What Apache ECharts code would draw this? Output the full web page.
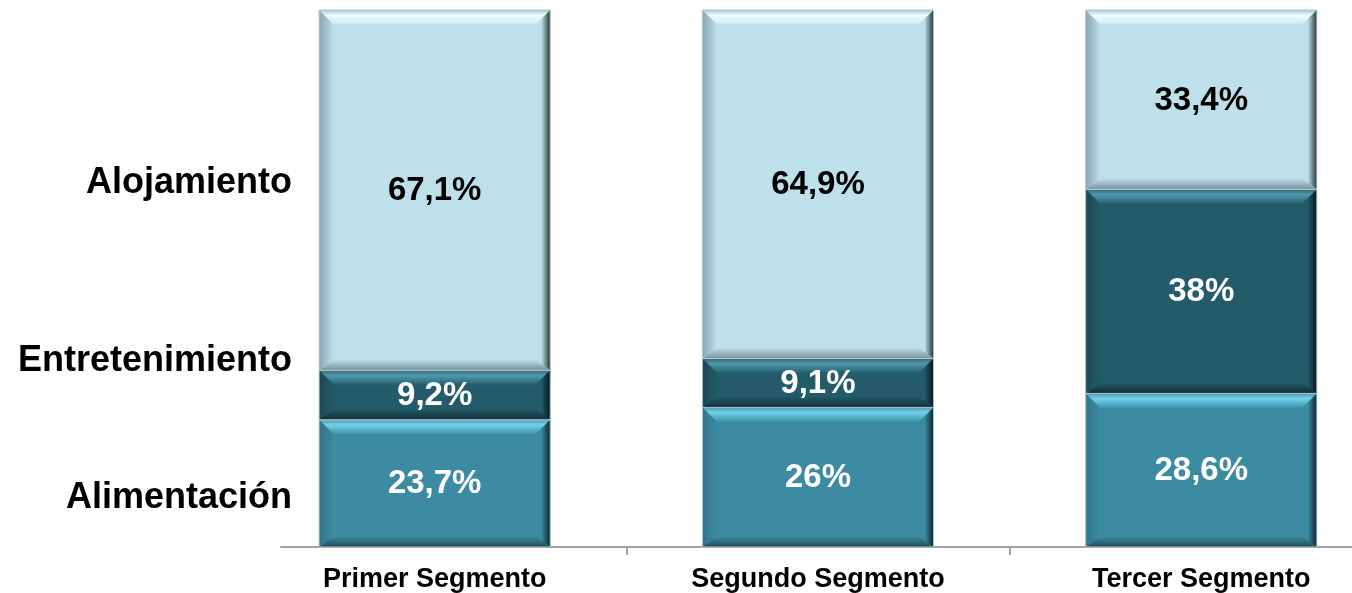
<!DOCTYPE html>
<html>
<head>
<meta charset="utf-8">
<script src="https://cdn.jsdelivr.net/npm/echarts@6/dist/echarts.min.js"></script>
<style>
html,body{margin:0;padding:0;background:#fff;}
#chart{width:1352px;height:593px;}
</style>
</head>
<body>
<div id="chart"></div>
<script>
// ---- data ----
const categories = ['Primer Segmento', 'Segundo Segmento', 'Tercer Segmento'];
const alimentacion = [23.7, 26, 28.6];
const entretenimiento = [9.2, 9.1, 38];
const alojamiento = [67.1, 64.9, 33.4];
const seriesNames = ['Alimentación', 'Entretenimiento', 'Alojamiento'];
const sideLabels = ['Alimentación', 'Entretenimiento', 'Alojamiento'];

// ---- layout / styles (not data) ----
const sideLabelValues = [9.1, 34.7, 67.8];
const palettes = [
  { main: '#3D8BA2', topO: '#4a9cb4', topM: '#74d0e8', topI: '#44a0b8', left: '#327489', right: '#0c252d', bottom: '#1f4c5a', text: '#ffffff' },
  { main: '#245B6A', topO: '#2c6878', topM: '#5199ab', topI: '#2b6c7c', left: '#1b4854', right: '#06161a', bottom: '#112f37', text: '#ffffff' },
  { main: '#BEE0EB', topO: '#a2c8d4', topM: '#f0fcff', topI: '#d2eef6', left: '#87a8b4', right: '#26343a', bottom: '#76909a', text: '#000000' }
];
const FONT = '"Liberation Sans", Arial, sans-serif';

function fmt(v) { return String(v).replace('.', ',') + '%'; }

const valueSets = [alimentacion, entretenimiento, alojamiento];
const base = categories.map(() => 0);
const seriesData = valueSets.map(vals => vals.map((v, i) => {
  const lo = base[i];
  base[i] += v;
  return [i, lo, lo + v, v];
}));
const catIdx = categories.map((c, i) => i);
const boundaries = categories.slice(1).map((c, i) => i + 0.5);

const G = echarts.graphic;
function makeRender(p) {
  return function (params, api) {
    const cat = api.value(0), lo = api.value(1), hi = api.value(2), v = api.value(3);
    const pLo = api.coord([cat, lo]);
    const pHi = api.coord([cat, hi]);
    const bw = api.size([1, 0])[0] * 0.603;
    const x0 = pLo[0] - bw / 2, x1 = x0 + bw;
    const yT = pHi[1], yB = pLo[1];
    const h = yB - yT;
    const b = Math.min(15, h / 2.3);
    const bb = Math.min(11, h / 2.3);
    const children = [
      { type: 'rect', shape: { x: x0, y: yT, width: bw, height: h }, style: { fill: p.main } },
      { type: 'polygon', shape: { points: [[x0, yT], [x1, yT], [x1 - b, yT + b], [x0 + b, yT + b]] },
        style: { fill: new G.LinearGradient(0, 0, 0, 1, [{ offset: 0, color: p.topO }, { offset: 0.35, color: p.topM }, { offset: 0.85, color: p.topI }, { offset: 1, color: p.main }]) } },
      { type: 'polygon', shape: { points: [[x0, yB], [x1, yB], [x1 - b, yB - bb], [x0 + b, yB - bb]] },
        style: { fill: new G.LinearGradient(0, 0, 0, 1, [{ offset: 0, color: p.main }, { offset: 1, color: p.bottom }]) } },
      { type: 'polygon', shape: { points: [[x0, yT], [x0 + b, yT + b], [x0 + b, yB - bb], [x0, yB]] },
        style: { fill: new G.LinearGradient(0, 0, 1, 0, [{ offset: 0, color: p.left }, { offset: 1, color: p.main }]) } },
      { type: 'polygon', shape: { points: [[x1, yT], [x1 - b, yT + b], [x1 - b, yB - bb], [x1, yB]] },
        style: { fill: new G.LinearGradient(0, 0, 1, 0, [{ offset: 0, color: p.main }, { offset: 0.4, color: p.main }, { offset: 1, color: p.right }]) } },
      { type: 'rect', shape: { x: x0, y: yT, width: bw, height: h }, style: { fill: 'none', stroke: '#b9c6cb', lineWidth: 1 } },
      { type: 'text', style: { text: fmt(v), x: (x0 + x1) / 2, y: (yT + yB) / 2 + 1, align: 'center', verticalAlign: 'middle',
        fill: p.text, fontSize: 33, fontWeight: 'bold', fontFamily: FONT } }
    ];
    return { type: 'group', children: children };
  };
}

const chart = echarts.init(document.getElementById('chart'), null, { renderer: 'canvas' });
chart.setOption({
  animation: false,
  backgroundColor: '#ffffff',
  grid: { left: 281, right: 0, top: 10, bottom: 46, containLabel: false },
  xAxis: {
    type: 'value',
    min: -0.4009, max: 2.3933,
    splitLine: { show: false },
    axisLine: { show: true, lineStyle: { color: '#a0a0a0', width: 2 } },
    axisTick: { show: true, length: 8, customValues: boundaries, lineStyle: { color: '#a0a0a0', width: 2 } },
    axisLabel: {
      customValues: catIdx,
      color: '#000', fontSize: 27, fontWeight: 'bold', fontFamily: FONT, margin: 19,
      formatter: function (val) { return categories[Math.round(val)]; }
    }
  },
  yAxis: {
    type: 'value', min: 0, max: 100,
    offset: -13,
    axisLine: { show: false }, axisTick: { show: false }, splitLine: { show: false },
    axisLabel: {
      customValues: sideLabelValues,
      margin: 2,
      color: '#000', fontSize: 36, fontWeight: 'bold', fontFamily: FONT,
      formatter: function (val) {
        let best = 0;
        sideLabelValues.forEach((s, i) => { if (Math.abs(s - val) < Math.abs(sideLabelValues[best] - val)) best = i; });
        return sideLabels[best];
      }
    }
  },
  series: seriesData.map((d, k) => ({
    name: seriesNames[k],
    type: 'custom',
    renderItem: makeRender(palettes[k]),
    encode: { x: 0, y: [1, 2] },
    data: d
  }))
});
</script>
</body>
</html>
